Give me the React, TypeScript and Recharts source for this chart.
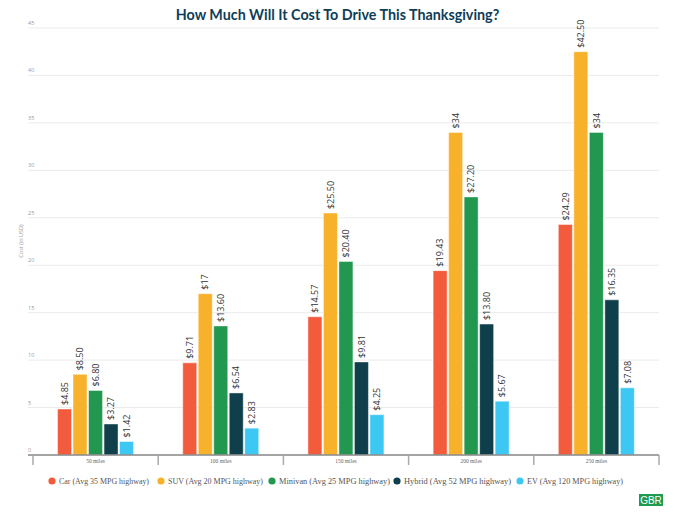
import React from 'react';
import { BarChart, Bar, XAxis, YAxis, CartesianGrid, LabelList } from 'recharts';

const categories = ['50 miles', '100 miles', '150 miles', '200 miles', '250 miles'];
const carValues = [4.85, 9.71, 14.57, 19.43, 24.29];
const suvValues = [8.5, 17, 25.5, 34, 42.5];
const minivanValues = [6.8, 13.6, 20.4, 27.2, 34];
const hybridValues = [3.27, 6.54, 9.81, 13.8, 16.35];
const evValues = [1.42, 2.83, 4.25, 5.67, 7.08];
const yTicks = [0, 5, 10, 15, 20, 25, 30, 35, 40, 45];

const seriesDefs = [
  { key: 'car', name: 'Car (Avg 35 MPG highway)', color: '#F35B3D', values: carValues },
  { key: 'suv', name: 'SUV (Avg 20 MPG highway)', color: '#F8B12A', values: suvValues },
  { key: 'minivan', name: 'Minivan (Avg 25 MPG highway)', color: '#22974F', values: minivanValues },
  { key: 'hybrid', name: 'Hybrid (Avg 52 MPG highway)', color: '#0F3F4B', values: hybridValues },
  { key: 'ev', name: 'EV (Avg 120 MPG highway)', color: '#3DC7F3', values: evValues },
];

// legend layout (positions only)
const legendDotX = [52, 161, 272, 397, 520];
const legendTextW = [90, 95, 111, 107, 96];

const data = categories.map((c, i) => {
  const row: any = { name: c };
  seriesDefs.forEach((s) => {
    row[s.key] = s.values[i];
  });
  return row;
});

const fmt = (v: number) => (Number.isInteger(v) ? `$${v}` : `$${v.toFixed(2)}`);

const BarLabel = (props: any) => {
  const { x, y, width, value } = props;
  const cx = x + width / 2 + 3.2;
  const cy = y - 4;
  return (
    <text
      x={cx}
      y={cy}
      transform={`rotate(-90, ${cx}, ${cy})`}
      textAnchor="start"
      fontSize={9}
      fontFamily="'Open Sans', sans-serif"
      fill="#333"
    >
      {fmt(value)}
    </text>
  );
};

const YTick = (props: any) => {
  const { y, payload } = props;
  return (
    <text x={28} y={y - 3} fontSize={5.5} fill="#999" fontFamily="'Open Sans', sans-serif">
      {payload.value}
    </text>
  );
};

const BAND = 125.2;

const XTick = (props: any) => {
  const { x, payload, index } = props;
  return (
    <g>
      <line x1={x - BAND / 2} y1={455} x2={x - BAND / 2} y2={465} stroke="#aaa" strokeWidth={1.5} />
      {index === categories.length - 1 && (
        <line x1={x + BAND / 2} y1={455} x2={x + BAND / 2} y2={465} stroke="#aaa" strokeWidth={1.5} />
      )}
      <text x={x} y={463} textAnchor="middle" fontSize={5.5} fill="#666" fontFamily="'Liberation Serif', serif">
        {payload.value}
      </text>
    </g>
  );
};

export default function App() {
  return (
    <div style={{ position: 'absolute', left: 0, top: 0, width: 675, height: 512, background: '#fff' }}>
      <BarChart
        width={675}
        height={512}
        data={data}
        margin={{ top: 28, right: 16, bottom: 47, left: 0 }}
        barCategoryGap="19.6%"
        barGap={1.5}
      >
        <CartesianGrid horizontal vertical={false} stroke="#ebebeb" strokeWidth={1} />
        <XAxis
          dataKey="name"
          axisLine={{ stroke: '#888', strokeWidth: 1.5 }}
          tickLine={false}
          tick={<XTick />}
          padding={{ left: 5, right: 0 }}
          interval={0}
          height={10}
        />
        <YAxis
          domain={[0, 45]}
          ticks={yTicks}
          width={28}
          axisLine={false}
          tickLine={false}
          tick={<YTick />}
          interval={0}
        />
        {seriesDefs.map((s) => (
          <Bar
            key={s.key}
            dataKey={s.key}
            name={s.name}
            fill={s.color}
            stroke="rgba(255,255,255,0.45)"
            strokeWidth={1}
            isAnimationActive={false}
          >
            <LabelList dataKey={s.key} content={<BarLabel />} />
          </Bar>
        ))}
      </BarChart>
      <svg
        width={675}
        height={512}
        style={{ position: 'absolute', left: 0, top: 0, pointerEvents: 'none' }}
      >
        <text
          x={337.5}
          y={20}
          textAnchor="middle"
          fontSize={14.3}
          fontWeight={700}
          fontFamily="Lato, sans-serif"
          fill="#0E3D58"
        >
          How Much Will It Cost To Drive This Thanksgiving?
        </text>
        <text
          x={23}
          y={241}
          transform="rotate(-90, 23, 241)"
          textAnchor="middle"
          fontSize={5.5}
          fill="#999"
          fontFamily="'Open Sans', sans-serif"
        >
          Cost (in USD)
        </text>
        {seriesDefs.map((s, i) => (
          <g key={s.key}>
            <circle cx={legendDotX[i]} cy={481} r={3.6} fill={s.color} />
            <text
              x={legendDotX[i] + 7}
              y={484.2}
              fontSize={9}
              fontFamily="'Liberation Serif', serif"
              fill="#555"
              textLength={legendTextW[i]}
              lengthAdjust="spacingAndGlyphs"
            >
              {s.name}
            </text>
          </g>
        ))}
        <rect x={639} y={494} width={24} height={12} fill="#1E9B4E" />
        <text x={651} y={504} textAnchor="middle" fontSize={10} fill="#fff" fontFamily="'Liberation Sans', Arial, sans-serif">
          GBR
        </text>
      </svg>
    </div>
  );
}
